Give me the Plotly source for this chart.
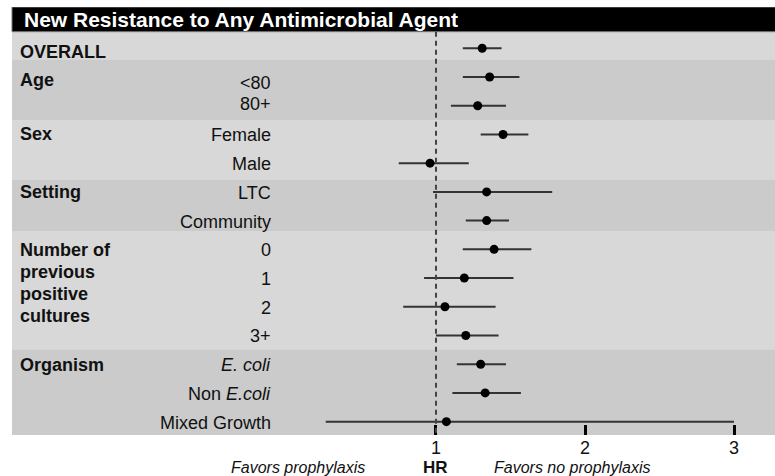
import plotly.graph_objects as go

# ---- data ----
title = "New Resistance to Any Antimicrobial Agent"
sub_labels = ["", "<80", "80+", "Female", "Male", "LTC", "Community",
              "0", "1", "2", "3+", "<i>E. coli</i>", "Non <i>E.coli</i>", "Mixed Growth"]
group_labels = ["OVERALL", "Age", "Sex", "Setting",
                ["Number of", "previous", "positive", "cultures"], "Organism"]
group_first_row = [0, 1, 3, 5, 7, 11]
hr = [1.31, 1.36, 1.28, 1.45, 0.96, 1.34, 1.34, 1.39, 1.19, 1.06, 1.20, 1.30, 1.33, 1.07]
ci_low = [1.18, 1.18, 1.10, 1.30, 0.75, 0.98, 1.20, 1.18, 0.92, 0.78, 1.00, 1.14, 1.11, 0.26]
ci_high = [1.44, 1.56, 1.47, 1.62, 1.22, 1.78, 1.49, 1.64, 1.52, 1.40, 1.42, 1.47, 1.57, 3.00]
x_ticks = [1, 2, 3]
x_tick_labels = ["1", "2", "3"]

# ---- style ----
FONT = "Liberation Sans, Arial, sans-serif"
LIGHT = "#d8d8d8"
DARK = "#cbcbcb"
TXT = "#111"
sub_shift = [0, -6, 2, -1, -1, -1, -1, -1, -1, -1, -1, -1, -1, -1]
group_shift = [-4, -3, 0, 0, None, -1]
multi_line_shift = [-1, -23, -45, -67]

rows = list(range(len(hr)))
Y_RANGE = [13.465, -1.438]
X_RANGE = [-1.8456, 3.2752]

fig = go.Figure()

band_edges = [-0.578, 0.383, 2.521, 4.586, 6.386, 10.481, 13.465]
band_cols = [LIGHT, DARK, LIGHT, DARK, LIGHT, DARK]
shapes = []
for i, c in enumerate(band_cols):
    shapes.append(dict(type="rect", xref="paper", yref="y", x0=0, x1=1,
                       y0=band_edges[i], y1=band_edges[i + 1],
                       fillcolor=c, line=dict(width=0), layer="below"))
shapes.append(dict(type="rect", xref="paper", yref="y", x0=0, x1=1.01,
                   y0=Y_RANGE[1], y1=band_edges[0],
                   fillcolor="black", line=dict(color="#777", width=1), layer="below"))
shapes.append(dict(type="line", xref="x", yref="y", x0=1, x1=1,
                   y0=band_edges[0], y1=Y_RANGE[0],
                   line=dict(color="#444", width=2, dash="5px,4px"), layer="above"))

fig.add_trace(go.Scatter(
    x=hr, y=rows, mode="markers",
    marker=dict(color="black", size=9),
    error_x=dict(type="data", symmetric=False,
                 array=[h - m for h, m in zip(ci_high, hr)],
                 arrayminus=[m - l for m, l in zip(hr, ci_low)],
                 width=0, thickness=2, color="#333"),
    showlegend=False, hoverinfo="skip", cliponaxis=False))

GX = (18 - 12) / 763
SX = (273 - 12) / 763
ann = []
ann.append(dict(text="<b>%s</b>" % title, xref="paper", yref="y", x=(22 - 12) / 763,
                y=-1.0, xanchor="left", yanchor="middle", showarrow=False,
                font=dict(family=FONT, size=21, color="white")))
for lab, r, sh in zip(group_labels, group_first_row, group_shift):
    if isinstance(lab, list):
        for line, ls in zip(lab, multi_line_shift):
            ann.append(dict(text="<b>%s</b>" % line, xref="paper", yref="y", x=GX,
                            y=r, xanchor="left", yanchor="middle", yshift=ls,
                            showarrow=False, font=dict(family=FONT, size=18, color=TXT)))
    else:
        ann.append(dict(text="<b>%s</b>" % lab, xref="paper", yref="y", x=GX,
                        y=r, xanchor="left", yanchor="middle", yshift=sh,
                        showarrow=False, font=dict(family=FONT, size=18, color=TXT)))
for lab, r, sh in zip(sub_labels, rows, sub_shift):
    if lab:
        ann.append(dict(text=lab, xref="paper", yref="y", x=SX,
                        y=r, xanchor="right", yanchor="middle", yshift=sh,
                        showarrow=False, font=dict(family=FONT, size=18, color=TXT)))
ann.append(dict(text="<b>HR</b>", xref="x", yref="paper", x=1, y=-0.077,
                xanchor="center", yanchor="middle", showarrow=False,
                font=dict(family=FONT, size=17, color=TXT)))
ann.append(dict(text="<i>Favors prophylaxis</i>", xref="x", yref="paper", x=1, xshift=-69,
                y=-0.077, xanchor="right", yanchor="middle", showarrow=False,
                font=dict(family=FONT, size=16, color=TXT)))
ann.append(dict(text="<i>Favors no prophylaxis</i>", xref="x", yref="paper", x=1, xshift=56,
                y=-0.077, xanchor="left", yanchor="middle", showarrow=False,
                font=dict(family=FONT, size=16, color=TXT)))

fig.update_layout(
    width=775, height=476,
    margin=dict(l=12, r=0, t=7, b=41),
    paper_bgcolor="white", plot_bgcolor="white",
    shapes=shapes, annotations=ann,
    xaxis=dict(range=X_RANGE, tickvals=x_ticks, ticktext=x_tick_labels,
               ticks="inside", ticklen=10, tickwidth=3, tickcolor="black",
               showgrid=False, zeroline=False, showline=False,
               tickfont=dict(family=FONT, size=18, color=TXT)),
    yaxis=dict(range=Y_RANGE, showgrid=False, zeroline=False,
               showticklabels=False, ticks=""),
)

fig.write_html("out.html", config={"displayModeBar": False})
